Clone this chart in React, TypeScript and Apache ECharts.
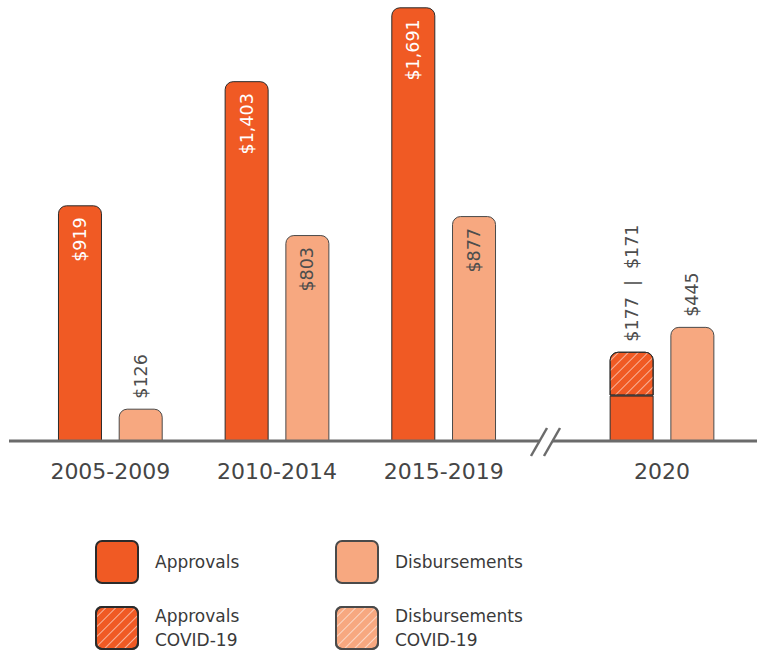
import React, { useEffect, useRef } from "react";
import * as echarts from "echarts";

const periods = ["2005-2009", "2010-2014", "2015-2019"];
const periodApprovals = [919, 1403, 1691];
const periodDisbursements = [126, 803, 877];
const recentYear = ["2020"];
const recentApprovals = [177];
const recentApprovalsCovid = [171];
const recentDisbursements = [445];
const recentDisbursementsCovid: number[] = [];

const ORANGE = "#F05A24";
const PEACH = "#F7A880";
const FONT = "DejaVu Sans";
const fmt = (v: number) => "$" + v.toLocaleString("en-US");

const decal = {
  symbol: "rect",
  symbolSize: 1,
  dashArrayX: [1, 0],
  dashArrayY: [0.9, 6],
  rotation: -Math.PI / 4,
  color: "rgba(255,255,255,0.55)",
};

const roundIcon =
  "path://M6,0H36A6,6,0,0,1,42,6V36A6,6,0,0,1,36,42H6A6,6,0,0,1,0,36V6A6,6,0,0,1,6,0Z";

export default function App() {
  const ref = useRef<HTMLDivElement>(null);
  useEffect(() => {
    const chart = echarts.init(ref.current!, null, { renderer: "svg" });
    const insideLabel = (color: string) => ({
      show: true,
      position: "insideTop",
      rotate: 90,
      align: "right",
      verticalAlign: "middle",
      distance: 12,
      color,
      fontSize: 17.5,
      fontFamily: FONT,
      formatter: (p: any) => fmt(p.value),
    });
    const outsideLabel = {
      show: true,
      position: "top",
      rotate: 90,
      align: "left",
      verticalAlign: "middle",
      distance: 10,
      color: "#4d4d4d",
      fontSize: 17.5,
      fontFamily: FONT,
      formatter: (p: any) => fmt(p.value),
    };
    const barBase = {
      type: "bar",
      barWidth: 44,
      barGap: "38%",
    };
    const legendCommon = {
      itemWidth: 42,
      itemHeight: 42,
      padding: 0,
      icon: roundIcon,
      selectedMode: false,
      textStyle: {
        fontFamily: FONT,
        fontSize: 17,
        color: "#3a3a3a",
        lineHeight: 24,
        padding: [0, 0, 0, 12],
      },
      formatter: (n: string) => n.replace(" COVID-19", "\nCOVID-19"),
    };
    const axisLabel = {
      fontFamily: FONT,
      fontSize: 22,
      color: "#454545",
      margin: 19,
    };
    const lineStyle = { stroke: "#6b6b6b", lineWidth: 3 };
    chart.setOption({
      animation: false,
      grid: [
        { left: 27, width: 500, top: 5, bottom: 212 },
        { left: 579, width: 166, top: 5, bottom: 212 },
      ],
      xAxis: [
        {
          type: "category",
          gridIndex: 0,
          data: periods,
          axisLine: { show: false },
          axisTick: { show: false },
          axisLabel,
        },
        {
          type: "category",
          gridIndex: 1,
          data: recentYear,
          axisLine: { show: false },
          axisTick: { show: false },
          axisLabel,
        },
      ],
      yAxis: [
        { type: "value", gridIndex: 0, min: 0, max: 1700, show: false, splitLine: { show: false } },
        { type: "value", gridIndex: 1, min: 0, max: 1700, show: false, splitLine: { show: false } },
      ],
      legend: [
        { ...legendCommon, data: ["Approvals"], left: 95, top: 540 },
        { ...legendCommon, data: ["Disbursements"], left: 335, top: 540 },
        { ...legendCommon, data: ["Approvals COVID-19"], left: 95, top: 604 },
        { ...legendCommon, data: ["Disbursements COVID-19"], left: 335, top: 604 },
      ],
      series: [
        {
          ...barBase,
          name: "Approvals",
          xAxisIndex: 0,
          yAxisIndex: 0,
          itemStyle: { color: ORANGE, borderColor: "#2b2b2b", borderWidth: 1, borderRadius: [8, 8, 0, 0] },
          label: insideLabel("#ffffff"),
          data: periodApprovals,
        },
        {
          ...barBase,
          name: "Disbursements",
          xAxisIndex: 0,
          yAxisIndex: 0,
          itemStyle: { color: PEACH, borderColor: "#4a4a4a", borderWidth: 1, borderRadius: [8, 8, 0, 0] },
          data: periodDisbursements.map((v) => ({
            value: v,
            label: v < 300 ? outsideLabel : insideLabel("#4d4d4d"),
          })),
        },
        {
          ...barBase,
          name: "Approvals",
          stack: "a",
          xAxisIndex: 1,
          yAxisIndex: 1,
          itemStyle: { color: ORANGE, borderColor: "#2b2b2b", borderWidth: 1 },
          data: recentApprovals,
        },
        {
          ...barBase,
          name: "Approvals COVID-19",
          stack: "a",
          xAxisIndex: 1,
          yAxisIndex: 1,
          itemStyle: { color: ORANGE, borderColor: "#2b2b2b", borderWidth: 1, borderRadius: [8, 8, 0, 0], decal },
          label: {
            ...outsideLabel,
            formatter: (p: any) =>
              fmt(recentApprovals[p.dataIndex]) + "  |  " + fmt(recentApprovalsCovid[p.dataIndex]),
          },
          data: recentApprovalsCovid,
        },
        {
          ...barBase,
          name: "Disbursements",
          stack: "d",
          xAxisIndex: 1,
          yAxisIndex: 1,
          itemStyle: { color: PEACH, borderColor: "#4a4a4a", borderWidth: 1, borderRadius: [8, 8, 0, 0] },
          label: outsideLabel,
          data: recentDisbursements,
        },
        {
          ...barBase,
          name: "Disbursements COVID-19",
          stack: "d",
          xAxisIndex: 1,
          yAxisIndex: 1,
          itemStyle: { color: PEACH, borderColor: "#4a4a4a", borderWidth: 1, borderRadius: [8, 8, 0, 0], decal },
          data: recentDisbursementsCovid,
        },
      ],
      graphic: [
        { type: "line", z: 100, shape: { x1: 9, y1: 441, x2: 539, y2: 441 }, style: lineStyle },
        { type: "line", z: 100, shape: { x1: 553, y1: 441, x2: 757, y2: 441 }, style: lineStyle },
        { type: "line", z: 100, shape: { x1: 531, y1: 456, x2: 547, y2: 428 }, style: { ...lineStyle, lineWidth: 2.5 } },
        { type: "line", z: 100, shape: { x1: 544, y1: 456, x2: 560, y2: 428 }, style: { ...lineStyle, lineWidth: 2.5 } },
      ],
    });
    return () => chart.dispose();
  }, []);
  return <div ref={ref} style={{ width: 757, height: 653, position: "absolute", left: 0, top: 0 }} />;
}
